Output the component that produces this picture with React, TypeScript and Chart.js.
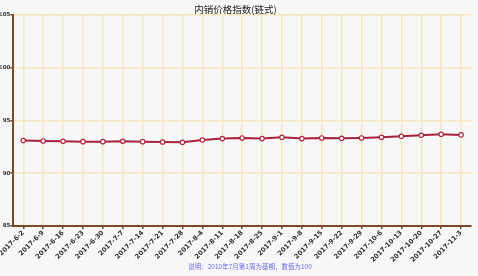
import React, { useEffect, useRef } from "react";
import { Chart, registerables } from "chart.js";

Chart.register(...registerables);

const categories = [
  "2017-6-2", "2017-6-9", "2017-6-16", "2017-6-23", "2017-6-30", "2017-7-7",
  "2017-7-14", "2017-7-21", "2017-7-28", "2017-8-4", "2017-8-11", "2017-8-18",
  "2017-8-25", "2017-9-1", "2017-9-8", "2017-9-15", "2017-9-22", "2017-9-29",
  "2017-10-6", "2017-10-13", "2017-10-20", "2017-10-27", "2017-11-3",
];

const indexValues = [
  93.09, 93.06, 93.03, 92.99, 92.99, 93.03, 92.99, 92.96, 92.93, 93.15,
  93.28, 93.34, 93.28, 93.4, 93.28, 93.34, 93.31, 93.34, 93.4, 93.5,
  93.6, 93.69, 93.63,
];

const yTicks = [85, 90, 95, 100, 105];

const titleText = "内销价格指数(链式)";
const noteText = "说明：2010年7月第1周为基期，数值为100";

const footerPlugin = {
  id: "footerNote",
  afterDraw(chart: any) {
    const ctx = chart.ctx;
    ctx.save();
    ctx.font = "6.5px 'Noto Sans CJK SC', sans-serif";
    ctx.fillStyle = "#6a6af0";
    ctx.textAlign = "center";
    ctx.textBaseline = "middle";
    ctx.fillText(noteText, 250, 267);
    ctx.restore();
  },
};

export default function App() {
  const ref = useRef<HTMLCanvasElement | null>(null);

  useEffect(() => {
    document.body.style.margin = "0";
    const canvas = ref.current;
    if (!canvas) return;
    const axisColor = "#7a4a2a";
    const gridColor = "#f6e6bf";
    const chart = new Chart(canvas, {
      type: "line",
      data: {
        labels: categories,
        datasets: [
          {
            data: indexValues,
            borderColor: "#a8213b",
            borderWidth: 2,
            pointRadius: 2.2,
            pointBorderWidth: 1.2,
            pointBackgroundColor: "#ffffff",
            pointBorderColor: "#b0283f",
            tension: 0,
          },
        ],
      },
      plugins: [footerPlugin],
      options: {
        responsive: false,
        animation: false,
        layout: { padding: { left: 0, right: 7, top: 0, bottom: 13.5 } },
        plugins: {
          legend: { display: false },
          tooltip: { enabled: false },
          title: {
            display: true,
            text: titleText,
            color: "#222222",
            font: { family: "'Noto Sans CJK SC', sans-serif", size: 9.5, weight: "normal" },
            padding: { top: 3.5, bottom: 0 },
          },
        },
        scales: {
          x: {
            type: "category",
            offset: true,
            grid: {
              offset: false,
              color: gridColor,
              lineWidth: 1.5,
              drawTicks: true,
              tickLength: 3,
              tickColor: axisColor,
            },
            border: { color: axisColor, width: 2 },
            ticks: {
              autoSkip: false,
              maxRotation: 45,
              minRotation: 45,
              padding: 0,
              color: "#333333",
              font: { family: "'DejaVu Sans', sans-serif", size: 6.5, weight: "bold" },
            },
            afterFit: (scale: any) => {
              scale.height = 36.5;
            },
          },
          y: {
            min: 85,
            max: 105,
            afterBuildTicks: (scale: any) => {
              scale.ticks = yTicks.map((v) => ({ value: v }));
            },
            grid: {
              color: gridColor,
              lineWidth: 1.5,
              drawTicks: true,
              tickLength: 3,
              tickColor: axisColor,
            },
            border: { color: axisColor, width: 2 },
            ticks: {
              padding: 0,
              color: "#333333",
              font: { family: "'DejaVu Sans', sans-serif", size: 5.5, weight: "bold" },
            },
            afterFit: (scale: any) => {
              scale.width = 13;
            },
          },
        },
      },
    });
    return () => chart.destroy();
  }, []);

  return (
    <div style={{ width: 478, height: 276, background: "#f7f7f7" }}>
      <canvas ref={ref} width={478} height={276} style={{ display: "block" }} />
    </div>
  );
}
